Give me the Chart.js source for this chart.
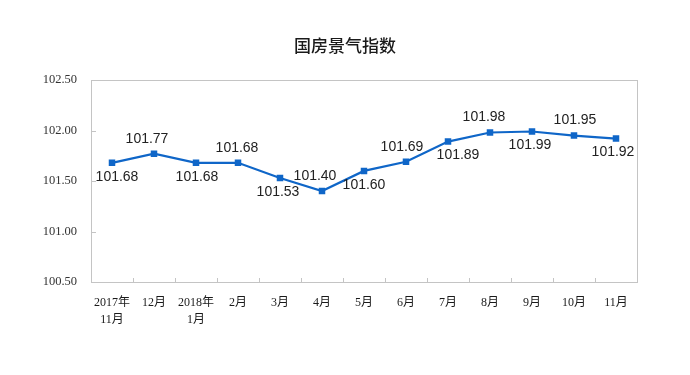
<!DOCTYPE html>
<html>
<head>
<meta charset="utf-8">
<script src="https://cdn.jsdelivr.net/npm/chart.js@4/dist/chart.umd.min.js"></script>
<style>
	html, body { margin: 0; padding: 0; background: #fff; }
	#wrap { width: 690px; height: 375px; }
</style>
</head>
<body>
<div id="wrap"><canvas id="chart" width="690" height="375"></canvas></div>
<script>
const titleText = '国房景气指数';
const months = [['2017年', '11月'], '12月', ['2018年', '1月'], '2月', '3月', '4月', '5月', '6月', '7月', '8月', '9月', '10月', '11月'];
const indexValues = [101.68, 101.77, 101.68, 101.68, 101.53, 101.40, 101.60, 101.69, 101.89, 101.98, 101.99, 101.95, 101.92];
const yTicks = [100.5, 101.0, 101.5, 102.0, 102.5];
// label above (true) or below (false) each point
const labelAbove = [false, true, false, true, false, true, false, true, false, true, false, true, false];
const labelShift = [5, -7, 1, -1, -2, -7, 0, -4, 10, -6, -2, 1, -3];

const lineColor = '#0f66c8';

// title, frame, inner tick marks and value labels
const framePlugin = {
	id: 'frame',
	beforeDatasetsDraw(chart) {
		const ctx = chart.ctx;
		const a = chart.chartArea;
		const x = chart.scales.x;
		const y = chart.scales.y;
		ctx.save();
		ctx.font = '500 17px "Noto Sans CJK SC", sans-serif';
		ctx.fillStyle = '#1a1a1a';
		ctx.textAlign = 'center';
		ctx.textBaseline = 'middle';
		ctx.fillText(titleText, chart.width / 2, 46);

		ctx.strokeStyle = '#c4c4c4';
		ctx.lineWidth = 1;
		ctx.strokeRect(Math.round(a.left) + 0.5, Math.round(a.top) + 0.5, Math.round(a.right - a.left), Math.round(a.bottom - a.top));
		ctx.beginPath();
		yTicks.forEach(function(v) {
			const py = Math.round(y.getPixelForValue(v)) + 0.5;
			ctx.moveTo(a.left, py);
			ctx.lineTo(a.left + 5, py);
		});
		for(let i = 1; i < months.length; i++) {
			const px = Math.round((x.getPixelForValue(i - 1) + x.getPixelForValue(i)) / 2) + 0.5;
			ctx.moveTo(px, a.bottom);
			ctx.lineTo(px, a.bottom - 4);
		}
		ctx.stroke();
		ctx.restore();
	},
	afterDatasetsDraw(chart) {
		const ctx = chart.ctx;
		const meta = chart.getDatasetMeta(0);
		ctx.save();
		ctx.font = '14px "Liberation Sans", Arial, sans-serif';
		ctx.fillStyle = '#222';
		ctx.textAlign = 'center';
		ctx.textBaseline = 'middle';
		meta.data.forEach(function(pt, i) {
			const dy = labelAbove[i] ? -15 : 14;
			ctx.fillText(indexValues[i].toFixed(2), pt.x + labelShift[i], pt.y + dy);
		});
		ctx.restore();
	}
};

const ctx = document.getElementById('chart').getContext('2d');
new Chart(ctx, {
	type: 'line',
	data: {
		labels: months,
		datasets: [{
			data: indexValues,
			borderColor: lineColor,
			backgroundColor: lineColor,
			borderWidth: 2.2,
			pointStyle: 'rect',
			pointRadius: 4.6,
			pointBorderWidth: 0,
			tension: 0
		}]
	},
	options: {
		responsive: false,
		animation: false,
		layout: { padding: { left: 0, right: 53, top: 80, bottom: 0 } },
		plugins: {
			legend: { display: false },
			tooltip: { enabled: false },
			title: { display: false }
		},
		scales: {
			x: {
				offset: true,
				grid: { display: false },
				border: { display: false },
				ticks: {
					color: '#1a1a1a',
					padding: 4,
					maxRotation: 0,
					autoSkip: false,
					font: { family: '"Liberation Serif", "Noto Sans CJK SC", serif', size: 12, lineHeight: 1.45 }
				},
				afterFit: function(scale) { scale.height = 93; }
			},
			y: {
				min: 100.5,
				max: 102.5,
				grid: { display: false },
				border: { display: false },
				ticks: {
					stepSize: 0.5,
					color: '#333',
					padding: 6,
					font: { family: '"Liberation Serif", "Times New Roman", serif', size: 12.5 },
					callback: function(v) { return Number(v).toFixed(2); }
				},
				afterFit: function(scale) { scale.width = 91; }
			}
		}
	},
	plugins: [framePlugin]
});
</script>
</body>
</html>
